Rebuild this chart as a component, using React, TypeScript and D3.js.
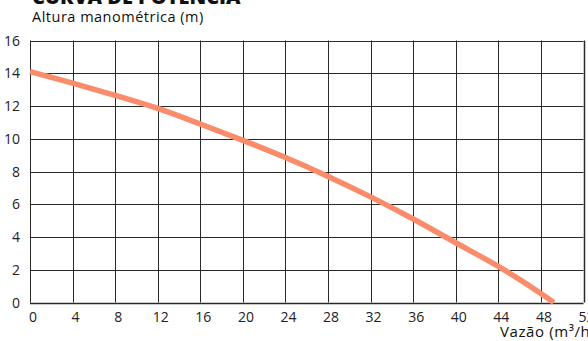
import React from "react";
import * as d3 from "d3";

const flowValues = [0, 4, 8, 12, 16, 20, 24, 28, 32, 36, 40, 44, 48, 49.2];
const headValues = [14.1, 13.4, 12.65, 11.85, 10.9, 9.9, 8.85, 7.7, 6.45, 5.1, 3.65, 2.2, 0.55, 0];
const xTicks = [0, 4, 8, 12, 16, 20, 24, 28, 32, 36, 40, 44, 48, 52];
const yTicks = [0, 2, 4, 6, 8, 10, 12, 14, 16];
const title = "CURVA DE POTÊNCIA";
const yTitle = "Altura manométrica (m)";
const xTitle = "Vazão (m³/h)";

const W = 588;
const H = 341;
const FONT = "'Open Sans', 'Noto Sans', sans-serif";

export default function App() {
  const x = d3.scaleLinear().domain([0, 52]).range([30, 583.5]);
  const y = d3.scaleLinear().domain([0, 16]).range([302.5, 40.5]);
  const pts: [number, number][] = flowValues.map((f, i) => [f, headValues[i]]);
  const line = d3
    .line<[number, number]>()
    .x((d) => x(d[0]))
    .y((d) => y(d[1]))
    .curve(d3.curveCatmullRom.alpha(0.5));

  return (
    <svg
      width={W}
      height={H}
      style={{ position: "absolute", left: 0, top: 0, background: "#fff" }}
      fontFamily={FONT}
    >
      <text x={32} y={4} fontSize={20} fontWeight={800} fill="#111">
        {title}
      </text>
      <text x={32} y={22} fontSize={14.5} letterSpacing={0.5} fill="#111">
        {yTitle}
      </text>
      {yTicks.map((t) => (
        <g key={"y" + t}>
          <line
            x1={x(0)}
            x2={x(52)}
            y1={Math.round(y(t)) + 0.5}
            y2={Math.round(y(t)) + 0.5}
            stroke="#2a2a2a"
            strokeWidth={t === 0 ? 1.5 : 1}
          />
          <text
            x={20}
            y={y(t) + 5}
            textAnchor="end"
            fontSize={14}
            fill="#222"
          >
            {t}
          </text>
        </g>
      ))}
      {xTicks.map((t) => (
        <g key={"x" + t}>
          <line
            x1={Math.round(x(t)) + 0.5}
            x2={Math.round(x(t)) + 0.5}
            y1={y(16)}
            y2={y(0)}
            stroke="#2a2a2a"
            strokeWidth={t === 52 ? 1.5 : 1}
          />
          <text
            x={x(t) + 3}
            y={322}
            textAnchor="middle"
            fontSize={14}
            fill="#222"
          >
            {t}
          </text>
        </g>
      ))}
      <path
        d={line(pts) || ""}
        fill="none"
        stroke="#FA8C6C"
        strokeWidth={5.5}
      />
      <text x={500} y={337} fontSize={15} letterSpacing={0.6} fill="#111">
        {xTitle}
      </text>
    </svg>
  );
}
